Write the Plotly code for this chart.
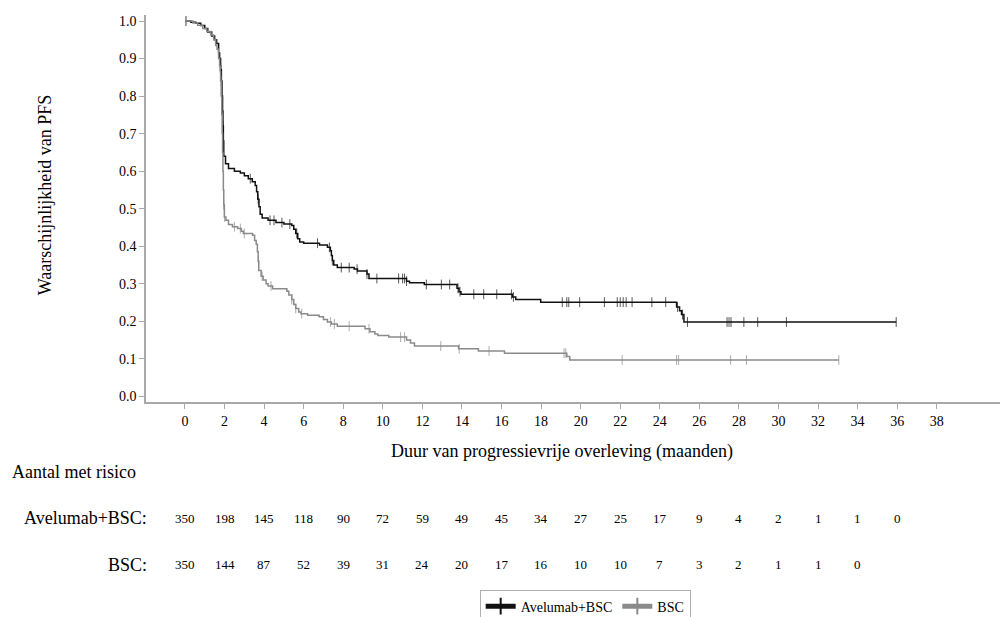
import numpy as np
import plotly.graph_objects as go

# Kaplan-Meier PFS: event times (months) and survival after each event
ave_t = [0.3, 0.55, 0.8, 1.0, 1.15, 1.35, 1.5, 1.6, 1.7, 1.75, 1.8, 1.84, 1.87, 1.9, 1.92, 1.94, 1.96,
         2.05, 2.2, 2.5, 2.8, 3.0, 3.2, 3.4, 3.55, 3.62, 3.68, 3.74, 3.8, 3.9, 4.2, 4.6, 5.0, 5.4, 5.5,
         5.6, 5.7, 5.8, 6.0, 6.8, 7.2, 7.35, 7.4, 7.45, 7.52, 7.7, 8.55, 8.72, 9.2, 9.3, 11.2, 11.35,
         12.1, 13.75, 13.85, 13.95, 16.55, 16.72, 17.98, 24.85, 25.0, 25.1, 25.22]
ave_s = [0.997, 0.994, 0.988, 0.98, 0.971, 0.96, 0.95, 0.94, 0.915, 0.9, 0.87, 0.84, 0.8, 0.76, 0.72,
         0.68, 0.64, 0.62, 0.607, 0.6, 0.595, 0.588, 0.58, 0.572, 0.562, 0.545, 0.525, 0.505, 0.485,
         0.475, 0.469, 0.463, 0.459, 0.455, 0.445, 0.434, 0.42, 0.411, 0.408, 0.403, 0.397, 0.388,
         0.375, 0.362, 0.35, 0.343, 0.339, 0.334, 0.326, 0.314, 0.307, 0.303, 0.298, 0.288, 0.279,
         0.272, 0.265, 0.258, 0.251, 0.238, 0.228, 0.218, 0.198]
ave_cens = [0.05, 1.82, 1.92, 3.3, 3.7, 4.3, 4.5, 4.9, 5.3, 5.65, 6.7, 7.3, 7.45, 7.9, 8.3, 8.7, 9.2,
            9.7, 10.8, 11.0, 11.1, 11.2, 12.2, 12.96, 13.38, 13.8, 13.9, 14.6, 15.1, 15.76, 16.5,
            16.6, 19.07, 19.3, 19.4, 19.95, 21.2, 21.85, 22.0, 22.15, 22.3, 22.6, 23.6, 24.3, 24.9,
            25.15, 25.4, 27.4, 27.5, 27.6, 28.25, 28.95, 30.4, 35.95]

bsc_t = [0.4, 0.64, 0.9, 1.1, 1.31, 1.45, 1.55, 1.62, 1.7, 1.75, 1.78, 1.8, 1.83, 1.86, 1.88, 1.9,
         1.92, 1.94, 1.96, 1.99, 2.07, 2.2, 2.4, 2.66, 2.85, 2.95, 3.42, 3.52, 3.6, 3.66, 3.7, 3.73,
         3.85, 3.95, 4.1, 4.2, 4.43, 5.15, 5.25, 5.4, 5.5, 5.6, 5.75, 5.86, 6.2, 6.78, 7.0, 7.2, 7.4,
         7.7, 9.1, 9.35, 9.6, 9.75, 10.3, 11.2, 11.4, 11.6, 13.83, 14.83, 16.15, 19.3, 19.45]
bsc_s = [0.995, 0.989, 0.98, 0.972, 0.963, 0.95, 0.935, 0.925, 0.9, 0.88, 0.865, 0.84, 0.8, 0.75,
         0.7, 0.65, 0.6, 0.55, 0.51, 0.478, 0.469, 0.458, 0.452, 0.447, 0.44, 0.434, 0.429, 0.415,
         0.405, 0.385, 0.36, 0.335, 0.32, 0.31, 0.3, 0.294, 0.287, 0.28, 0.27, 0.258, 0.245, 0.234,
         0.225, 0.22, 0.216, 0.212, 0.205, 0.198, 0.193, 0.187, 0.18, 0.172, 0.166, 0.162, 0.158,
         0.15, 0.142, 0.134, 0.127, 0.121, 0.115, 0.106, 0.097]
bsc_cens = [0.05, 1.82, 1.96, 2.0, 2.5, 2.8, 3.0, 3.72, 3.9, 4.35, 5.4, 5.6, 5.9, 7.35, 7.55, 8.3,
            9.3, 10.9, 11.1, 12.93, 13.86, 15.37, 19.16, 19.25, 22.1, 24.85, 24.95, 27.58, 28.38, 33.05]

# number at risk
risk_t = list(range(0, 38, 2))
ave_risk = [350, 198, 145, 118, 90, 72, 59, 49, 45, 34, 27, 25, 17, 9, 4, 2, 1, 1, 0]
bsc_risk = [350, 144, 87, 52, 39, 31, 24, 20, 17, 16, 10, 10, 7, 3, 2, 1, 1, 0]

x_ticks = list(range(0, 40, 2))

FONT = "Times New Roman, Liberation Serif, serif"


def km_points(t_ev, s_ev, t_cens):
    # merge events and censor times into one step path; censors get a marker
    t_ev = np.array(t_ev)
    s_ev = np.array(s_ev)
    pts = [(0.0, 1.0, False)]
    pts += [(t, s, False) for t, s in zip(t_ev, s_ev)]
    for c in t_cens:
        idx = np.searchsorted(t_ev, c, side="right") - 1
        s = 1.0 if idx < 0 else s_ev[idx]
        pts.append((c, s, True))
    pts.sort(key=lambda p: p[0])
    xs = [p[0] for p in pts]
    ys = [p[1] for p in pts]
    sz = [7 if p[2] else 0 for p in pts]
    return xs, ys, sz


fig = go.Figure()

for name, t, s, c, col in [("Avelumab+BSC", ave_t, ave_s, ave_cens, "#111111"),
                           ("BSC", bsc_t, bsc_s, bsc_cens, "#8a8a8a")]:
    xs, ys, sz = km_points(t, s, c)
    fig.add_trace(go.Scatter(
        x=xs, y=ys, name=name, mode="lines+markers", showlegend=False,
        line=dict(color=col, width=1.5, shape="hv"),
        marker=dict(symbol="line-ns", size=sz, color=col, line=dict(color=col, width=1)),
    ))
    # legend entry
    fig.add_trace(go.Scatter(
        x=[None], y=[None], name=name, mode="lines+markers",
        line=dict(color=col, width=1.5),
        marker=dict(symbol="line-ns", size=6, color=col, line=dict(color=col, width=1)),
    ))

annos = []
for t, n in zip(risk_t, ave_risk):
    annos.append(dict(x=t, y=-0.300, xref="x", yref="paper", text=str(n), showarrow=False,
                      yanchor="middle", font=dict(family=FONT, size=13, color="black")))
for t, n in zip(risk_t, bsc_risk):
    annos.append(dict(x=t, y=-0.421, xref="x", yref="paper", text=str(n), showarrow=False,
                      yanchor="middle", font=dict(family=FONT, size=13, color="black")))

big = dict(family=FONT, size=18, color="black")
annos += [
    dict(x=-0.158, y=-0.181, xref="paper", yref="paper", text="Aantal met risico", showarrow=False,
         xanchor="left", yanchor="middle", font=big),
    dict(x=0.003, y=-0.300, xref="paper", yref="paper", text="Avelumab+BSC:", showarrow=False,
         xanchor="right", yanchor="middle", font=big),
    dict(x=0.003, y=-0.421, xref="paper", yref="paper", text="BSC:", showarrow=False,
         xanchor="right", yanchor="middle", font=big),
    dict(x=0.484, y=-0.129, xref="paper", yref="paper",
         text="Duur van progressievrije overleving (maanden)", showarrow=False,
         xanchor="center", yanchor="middle", font=big),
    dict(x=-0.117, y=0.535, xref="paper", yref="paper", text="Waarschijnlijkheid van PFS",
         showarrow=False, textangle=-90, xanchor="center", yanchor="middle", font=big),
]

# page body has an 8px margin, so the figure is 8px smaller and shifted
fig.update_layout(
    width=1000, height=609,
    margin=dict(l=138, r=2, t=7, b=215),
    plot_bgcolor="white", paper_bgcolor="white",
    font=dict(family=FONT, size=14, color="black"),
    annotations=annos,
    legend=dict(orientation="h", x=0.388, xref="paper", y=0.045, yref="container",
                xanchor="left", yanchor="top",
                bordercolor="#b0b0b0", borderwidth=1, itemsizing="constant",
                font=dict(family=FONT, size=14, color="black")),
)
fig.update_xaxes(range=[-1.97, 41.5], tickvals=x_ticks, showgrid=False, zeroline=False,
                 showline=True, linecolor="#a8a8a8", linewidth=1.5,
                 ticks="outside", ticklen=5, tickcolor="#a8a8a8",
                 tickfont=dict(family=FONT, size=14))
fig.update_yaxes(range=[-0.015, 1.016], dtick=0.1, tick0=0, tickformat=".1f", showgrid=False,
                 zeroline=False, showline=True, linecolor="#a8a8a8", linewidth=1.5,
                 ticks="outside", ticklen=5, tickcolor="#a8a8a8",
                 tickfont=dict(family=FONT, size=14))

fig.write_html("out.html")
